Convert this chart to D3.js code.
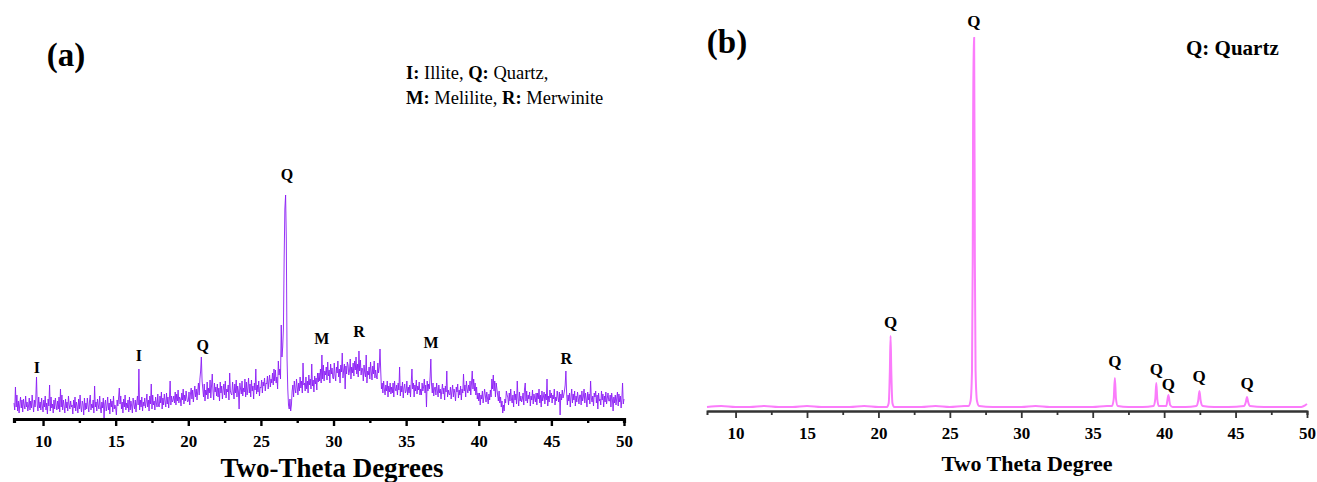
<!DOCTYPE html>
<html>
<head>
<meta charset="utf-8">
<script src="https://cdn.jsdelivr.net/npm/d3@7"></script>
<style>
  html, body { margin: 0; padding: 0; background: #fff; }
  svg { display: block; font-family: "Liberation Serif", "Times New Roman", serif; }
</style>
</head>
<body>
<svg id="chart" width="1317" height="482"></svg>
<script>
// ---------------- DATA ----------------
// Panel (a): raw XRD scan, 2θ from 8 to 50 in 0.05° steps, intensity (a.u.)
const scanStartA = 8, scanStepA = 0.05;
const intensityA = [
  16,9,32,12,24,8,18,6,15,22,11,19,7,20,14,10,23,12,17,8,
  13,21,9,18,11,24,15,7,19,12,20,42,14,8,22,11,17,9,21,13,
  7,19,12,23,9,16,5,20,13,34,8,22,11,15,6,19,10,21,14,9,
  18,10,22,7,30,12,24,9,19,13,6,20,11,17,8,23,14,10,18,12,
  14,5,19,11,22,8,17,13,6,20,10,24,12,7,18,15,4,21,9,16,
  10,21,13,7,18,24,9,15,11,19,6,33,12,17,8,20,14,10,23,11,
  6,17,11,21,0,15,19,8,13,22,9,16,5,20,12,18,7,23,10,14,
  11,4,19,13,21,31,15,23,10,17,6,20,12,24,9,16,11,19,7,22,
  9,18,13,6,21,15,10,19,7,16,23,14,50,9,19,12,22,8,17,13,
  21,11,17,25,12,19,8,23,15,35,10,24,14,18,9,22,16,12,25,13,
  12,23,16,27,10,21,14,25,18,12,26,15,22,11,20,38,14,23,17,19,
  23,16,27,14,25,18,29,16,22,20,13,26,19,30,15,24,18,28,21,17,
  18,27,14,25,31,20,29,17,26,33,22,30,19,28,36,24,40,48,62,38,
  30,22,35,18,29,24,37,20,31,26,39,21,33,45,28,19,36,27,32,23,
  35,22,31,18,37,26,33,20,29,35,24,38,21,30,27,34,19,46,28,25,
  24,37,28,20,35,26,39,22,33,28,10,36,30,25,38,23,31,27,40,22,
  37,24,31,41,26,35,22,39,28,33,20,36,29,50,25,34,27,38,23,32,
  31,39,26,37,33,41,28,36,35,43,30,38,44,32,40,36,46,34,50,38,
  49,36,42,30,58,44,50,40,94,62,72,90,160,210,224,180,60,30,14,10,
  20,8,14,28,34,22,38,30,26,40,32,24,36,28,42,31,38,26,56,34,
  36,28,42,30,38,26,44,34,40,30,55,33,39,27,43,35,41,29,46,37,
  46,38,50,36,64,40,54,38,48,44,52,39,57,43,49,36,55,45,51,41,
  40,56,44,38,52,46,58,42,50,36,54,47,66,41,49,55,30,53,45,57,
  54,44,48,60,40,52,46,56,43,58,49,62,45,55,42,68,48,59,44,51,
  50,38,54,46,42,64,36,48,44,52,40,57,47,39,53,45,58,41,49,43,
  40,56,46,52,70,48,30,36,26,38,30,24,34,28,38,22,33,27,36,25,
  32,26,36,22,38,30,28,34,24,36,29,52,23,33,27,37,21,31,35,26,
  28,38,24,32,26,34,22,36,50,30,36,22,34,28,39,25,33,29,37,24,
  30,24,36,28,32,40,26,34,12,38,28,35,30,42,60,34,26,36,23,31,
  32,24,36,28,22,34,26,30,20,28,35,25,31,19,33,27,48,22,29,25,
  24,32,20,28,34,22,30,26,18,32,27,35,21,29,24,33,19,30,26,45,
  28,34,22,38,30,26,34,28,38,24,36,48,30,40,28,36,24,32,20,26,
  18,26,14,24,20,28,16,22,30,24,17,27,21,15,25,19,29,22,40,30,
  44,28,38,22,36,30,24,18,28,16,22,12,18,6,14,8,20,16,28,24,
  22,14,26,18,30,20,16,24,12,28,19,25,15,38,21,13,27,18,23,17,
  20,26,14,30,36,18,28,16,24,20,27,13,23,19,29,15,25,21,17,26,
  14,26,20,30,16,24,12,28,18,22,27,15,25,19,40,13,23,17,29,21,
  26,16,24,20,30,14,22,18,28,22,17,27,4,25,19,29,21,24,28,34,
  48,26,14,24,18,26,12,22,30,16,25,19,28,13,23,17,27,21,15,24,
  24,14,28,18,22,30,16,26,20,12,27,19,25,15,38,21,17,23,13,26,
  22,28,16,24,10,26,18,20,14,28,19,25,12,23,17,27,15,21,26,18,
  18,24,12,26,20,8,22,16,24,14,21,27,13,25,17,23,11,19,36,15,
  20
];
// Panel (a) peak labels
const labelsA = ["I", "I", "Q", "Q", "M", "R", "M", "R"];
const labelThetaA = [9.58, 16.6, 21.0, 26.8, 29.2, 31.76, 36.72, 46.02];
const labelLevelA = [46, 58, 68, 239, 75, 82, 71, 55];

// Panel (b): XRD profile points (2θ, intensity)
const thetaB = [
  8, 9, 10, 11, 12, 13, 14, 15, 16, 17, 18, 19, 20, 20.6, 20.72, 20.8, 20.85, 20.9, 20.98, 21.1,
  22, 23, 24, 25, 26, 26.3, 26.45, 26.55, 26.6, 26.65, 26.7, 26.75, 26.8, 26.9, 27.05,
  28, 29, 30, 31, 32, 33, 34, 35, 36, 36.35, 36.47, 36.55, 36.63, 36.75,
  37.5, 38.5, 39.25, 39.38, 39.45, 39.52, 39.62, 40.15, 40.3, 40.42, 40.6,
  41.5, 42.25, 42.38, 42.47, 42.56, 42.7, 43.5, 44.5, 45.6, 45.72, 45.8, 45.88, 46.0,
  47, 48, 49, 49.6, 49.9, 50
];
const intensityB = [
  4, 5, 4, 4, 5, 4, 4, 5, 4, 4, 4, 5, 4, 4, 8, 40, 75, 40, 8, 4,
  4, 4, 5, 4, 5, 5, 10, 40, 150, 373, 373, 150, 40, 10, 5,
  4, 4, 4, 5, 4, 4, 4, 4, 5, 5, 12, 33, 12, 5,
  4, 4, 5, 12, 28, 12, 5, 5, 16, 6, 4,
  4, 5, 10, 20, 10, 5, 4, 4, 5, 9, 14, 9, 5,
  4, 4, 4, 4, 6, 7
];
const labelThetaB = [20.85, 26.68, 36.55, 39.45, 40.3, 42.45, 45.8];
const labelLevelB = [83, 384, 44, 36, 21, 29, 22];

const majorTicks = [10, 15, 20, 25, 30, 35, 40, 45, 50];
const minorTicks = [12.5, 17.5, 22.5, 27.5, 32.5, 37.5, 42.5, 47.5];

// ---------------- DRAW ----------------
const svg = d3.select("#chart");
const FONT = '"Liberation Serif", "Times New Roman", serif';

// ===== Panel (a) =====
const xA = d3.scaleLinear().domain([8, 50]).range([14, 624]);
const yA = d3.scaleLinear().domain([0, 250]).range([419, 169]);
const ptsA = intensityA.map((v, i) => [scanStartA + i * scanStepA, v]);

const gA = svg.append("g");
gA.append("path")
  .datum(ptsA)
  .attr("fill", "none")
  .attr("stroke", "#8a1cf5")
  .attr("stroke-width", 0.9)
  .attr("stroke-linejoin", "miter")
  .attr("d", d3.line().x(d => xA(d[0])).y(d => yA(d[1])));

// axis a
const axAmin = gA.append("g").attr("transform", "translate(0,419)")
  .call(d3.axisBottom(xA).tickValues(minorTicks).tickSize(4).tickFormat(""));
const axA = gA.append("g").attr("transform", "translate(0,419)")
  .call(d3.axisBottom(xA).tickValues(majorTicks).tickSize(7).tickSizeOuter(0).tickPadding(9).tickFormat(d3.format("d")));
[axA, axAmin].forEach(a => {
  a.select(".domain").attr("stroke", "#000").attr("stroke-width", 3.2);
  a.selectAll(".tick line").attr("stroke", "#000").attr("stroke-width", 2.4);
});
axA.selectAll(".tick text").attr("font-family", FONT).attr("font-weight", "bold")
  .attr("font-size", 17).attr("fill", "#000");

gA.append("text").attr("x", 332).attr("y", 477).attr("text-anchor", "middle")
  .attr("font-family", FONT).attr("font-weight", "bold").attr("font-size", 27)
  .text("Two-Theta Degrees");

gA.selectAll("text.lblA").data(labelsA).join("text").attr("class", "lblA")
  .attr("x", (d, i) => xA(labelThetaA[i]))
  .attr("y", (d, i) => yA(labelLevelA[i]))
  .attr("text-anchor", "middle")
  .attr("font-family", FONT).attr("font-weight", "bold").attr("font-size", 16)
  .text(d => d);

gA.append("text").attr("x", 66).attr("y", 66).attr("text-anchor", "middle")
  .attr("font-family", FONT).attr("font-weight", "bold").attr("font-size", 33)
  .text("(a)");

const legA = gA.append("text").attr("font-family", FONT).attr("font-size", 18.5).attr("fill", "#000");
const l1 = legA.append("tspan").attr("x", 406).attr("y", 79);
l1.append("tspan").attr("font-weight", "bold").text("I:");
l1.append("tspan").text(" Illite, ");
l1.append("tspan").attr("font-weight", "bold").text("Q:");
l1.append("tspan").text(" Quartz,");
const l2 = legA.append("tspan").attr("x", 406).attr("y", 104);
l2.append("tspan").attr("font-weight", "bold").text("M:");
l2.append("tspan").text(" Melilite, ");
l2.append("tspan").attr("font-weight", "bold").text("R:");
l2.append("tspan").text(" Merwinite");

// ===== Panel (b) =====
const xB = d3.scaleLinear().domain([8, 50]).range([707, 1307]);
const yB = d3.scaleLinear().domain([0, 400]).range([411, 11]);
const ptsB = thetaB.map((t, i) => [t, intensityB[i]]);

const gB = svg.append("g");
gB.append("path")
  .datum(ptsB)
  .attr("fill", "none")
  .attr("stroke", "#fb7cfb")
  .attr("stroke-width", 2)
  .attr("d", d3.line().x(d => xB(d[0])).y(d => yB(d[1])).curve(d3.curveMonotoneX));

const axBmin = gB.append("g").attr("transform", "translate(0,411)")
  .call(d3.axisBottom(xB).tickValues(minorTicks).tickSize(4).tickFormat(""));
const axB = gB.append("g").attr("transform", "translate(0,411)")
  .call(d3.axisBottom(xB).tickValues(majorTicks).tickSize(7).tickSizeOuter(0).tickPadding(9).tickFormat(d3.format("d")));
[axB, axBmin].forEach(a => {
  a.select(".domain").attr("stroke", "#333").attr("stroke-width", 2);
  a.selectAll(".tick line").attr("stroke", "#333").attr("stroke-width", 1.8);
});
axB.selectAll(".tick text").attr("font-family", FONT).attr("font-weight", "bold")
  .attr("font-size", 17).attr("fill", "#000");

gB.append("text").attr("x", 1027).attr("y", 471).attr("text-anchor", "middle")
  .attr("font-family", FONT).attr("font-weight", "bold").attr("font-size", 22)
  .text("Two Theta Degree");

gB.selectAll("text.lblB").data(labelThetaB).join("text").attr("class", "lblB")
  .attr("x", d => xB(d))
  .attr("y", (d, i) => yB(labelLevelB[i]))
  .attr("text-anchor", "middle")
  .attr("font-family", FONT).attr("font-weight", "bold").attr("font-size", 17)
  .text("Q");

gB.append("text").attr("x", 727).attr("y", 53).attr("text-anchor", "middle")
  .attr("font-family", FONT).attr("font-weight", "bold").attr("font-size", 33)
  .text("(b)");

gB.append("text").attr("x", 1186).attr("y", 55)
  .attr("font-family", FONT).attr("font-weight", "bold").attr("font-size", 21)
  .text("Q: Quartz");
</script>
</body>
</html>
